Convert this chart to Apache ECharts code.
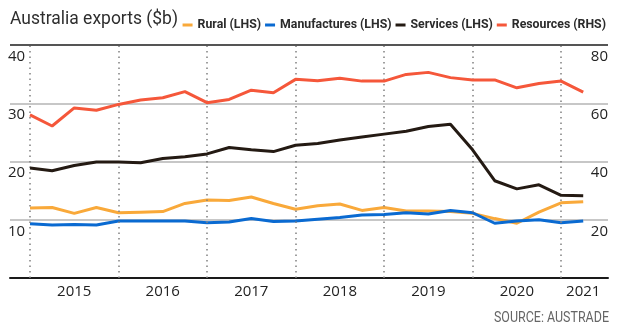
<!DOCTYPE html>
<html><head><meta charset="utf-8">
<script src="https://cdn.jsdelivr.net/npm/echarts@6/dist/echarts.min.js"></script>
<style>html,body{margin:0;padding:0;background:#fff}#c{width:620px;height:332px}</style>
</head><body><div id="c"></div>
<script>
// quarterly points, first at start of 2015 boundary
const yearLabels = {2:'2015',6:'2016',10:'2017',14:'2018',18:'2019',22:'2020',25:'2021'};
const yearBoundaries = [0,4,8,12,16,20,24];
const rural = [12.0,12.1,11.1,12.1,11.2,11.3,11.4,12.8,13.4,13.3,13.9,12.8,11.8,12.4,12.7,11.6,12.1,11.5,11.5,11.4,11.1,10.2,9.4,11.3,12.9,13.1];
const manufactures = [9.3,9.1,9.2,9.1,9.8,9.8,9.8,9.8,9.5,9.6,10.2,9.7,9.8,10.1,10.4,10.8,10.9,11.2,11.0,11.6,11.2,9.4,9.8,10.0,9.5,9.8];
const services = [18.9,18.4,19.3,19.9,19.9,19.8,20.5,20.8,21.3,22.4,22.0,21.7,22.8,23.1,23.7,24.2,24.7,25.2,26.0,26.4,22.0,16.7,15.3,16.0,14.2,14.1];
const resources = [56.0,52.2,58.4,57.6,59.6,61.1,61.9,64.0,60.2,61.3,64.5,63.6,68.2,67.7,68.6,67.6,67.6,69.9,70.6,68.8,68.0,68.0,65.3,66.8,67.6,63.8];
const leftTicks = [0,10,20,30,40];
const rightTicks = [0,20,40,60,80];

const pairs = a => a.map((v,i)=>[i,v]);
const R = "Roboto,sans-serif";
const N = "'Open Sans','Noto Sans',sans-serif";
const chart = echarts.init(document.getElementById('c'), null, {renderer:'canvas'});
chart.setOption({
  animation:false,
  legend:{right:9,top:14,itemWidth:10,itemHeight:3,itemGap:4,icon:'rect',
    textStyle:{fontFamily:R,fontWeight:'bold',fontSize:12.3,color:'#2b2b2b'},
    data:['Rural (LHS)','Manufactures (LHS)','Services (LHS)','Resources (RHS)']},
  grid:{left:10,right:12,top:45,bottom:54},
  xAxis:{type:'value',min:-0.904,max:26.12,
    axisLine:{show:true,onZero:false,lineStyle:{color:'#1a1a1a',width:2}},
    axisTick:{show:false},splitLine:{show:false},
    axisLabel:{customValues:[2,6,10,14,18,22,25],formatter:v=>yearLabels[Math.round(v)]||'',
      fontFamily:N,fontSize:15,color:'#222',margin:6}},
  yAxis:[
    {type:'value',min:leftTicks[0],max:leftTicks[4],interval:10,position:'left',
     axisLine:{show:false},axisTick:{show:false},
     splitLine:{lineStyle:{color:'#b5b5b5',width:1.5}},
     axisLabel:{inside:true,showMinLabel:false,verticalAlign:'top',padding:[4,0,0,0],margin:-2,
       fontFamily:N,fontSize:15,color:'#222'}},
    {type:'value',min:rightTicks[0],max:rightTicks[4],interval:20,position:'right',
     axisLine:{show:false},axisTick:{show:false},splitLine:{show:false},
     axisLabel:{inside:true,showMinLabel:false,verticalAlign:'top',padding:[4,0,0,0],margin:0,
       fontFamily:N,fontSize:15,color:'#222'}}
  ],
  series:[
    {name:'Rural (LHS)',type:'line',data:pairs(rural),color:'#f9a93a',symbol:'none',lineStyle:{width:3},z:3,
     markLine:{silent:true,symbol:'none',label:{show:false},
       data:yearBoundaries.map(x=>({xAxis:x,lineStyle:{color:'#808080',width:1.5,type:[1.5,4]}}))
         .concat([{yAxis:40,lineStyle:{color:'#555',width:2,type:'solid'}}])}},
    {name:'Manufactures (LHS)',type:'line',data:pairs(manufactures),color:'#0a6ad1',symbol:'none',lineStyle:{width:3},z:4},
    {name:'Services (LHS)',type:'line',data:pairs(services),color:'#241a13',symbol:'none',lineStyle:{width:3},z:5},
    {name:'Resources (RHS)',type:'line',yAxisIndex:1,data:pairs(resources),color:'#f5573a',symbol:'none',lineStyle:{width:3},z:6}
  ],
  graphic:[
    {type:'text',x:10,y:19,scaleX:0.92,style:{text:'Australia exports ($b)',font:"19px Roboto,sans-serif",fill:'#2e2e2e',textAlign:'left',textVerticalAlign:'middle'}},
    {type:'text',x:609,y:318,scaleX:0.89,style:{text:'SOURCE: AUSTRADE',font:"14px Roboto,sans-serif",fill:'#666',textAlign:'right',textVerticalAlign:'middle'}}
  ]
});
</script></body></html>
